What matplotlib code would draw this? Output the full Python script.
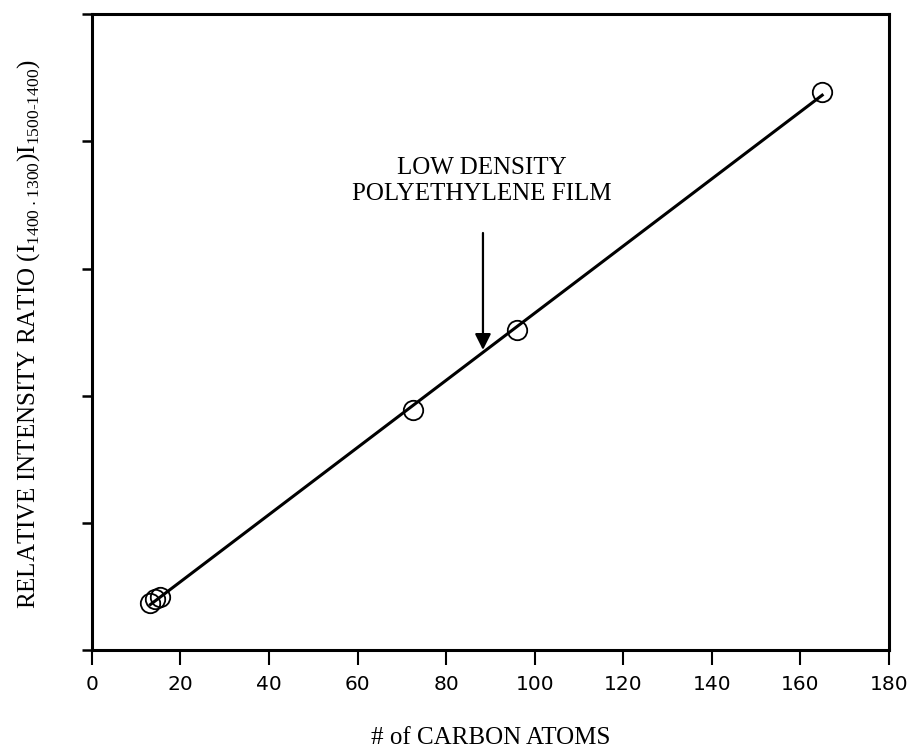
import numpy as np
import matplotlib
matplotlib.use("Agg")
import matplotlib.pyplot as plt

plt.rcParams['mathtext.fontset'] = 'custom'
plt.rcParams['mathtext.rm'] = 'Liberation Serif'

# data
carbon_atoms = [13.2, 14.3, 15.4, 72.5, 96.0, 164.9]
intensity_ratio = [0.37, 0.40, 0.42, 1.89, 2.52, 4.39]

x_ticks = [0, 20, 40, 60, 80, 100, 120, 140, 160, 180]
y_ticks = [0, 1, 2, 3, 4, 5]

arrow_x = 88.3
arrow_top = 3.28
arrow_tip = 2.36

fig = plt.figure(figsize=(9.1, 7.54), dpi=100)
ax = fig.add_axes([0.101, 0.138, 0.876, 0.843])

# straight line fitted through the points
slope, icpt = np.polyfit(carbon_atoms, intensity_ratio, 1)
xs = np.array([min(carbon_atoms), max(carbon_atoms)])
ax.plot(xs, slope * xs + icpt, color='black', linewidth=2.2, zorder=2)

ax.plot(carbon_atoms, intensity_ratio, linestyle='none', marker='o',
        markersize=14, markerfacecolor='none', markeredgecolor='black',
        markeredgewidth=1.3, zorder=3)

ax.annotate('', xy=(arrow_x, arrow_tip), xytext=(arrow_x, arrow_top),
            arrowprops=dict(arrowstyle='-|>', color='black', lw=1.6,
                            mutation_scale=24, shrinkA=0, shrinkB=0))
ax.text(arrow_x - 0.3, 3.50, 'LOW DENSITY\nPOLYETHYLENE FILM', ha='center',
        va='bottom', family='Liberation Serif', fontsize=18, linespacing=1.25)

ax.set_xlim(0, 180)
ax.set_ylim(0, 5)
ax.set_xticks(x_ticks)
ax.set_yticks(y_ticks)
ax.set_yticklabels([])
ax.tick_params(axis='x', direction='out', length=11, width=1.5, pad=7,
               labelsize=14.5)
ax.tick_params(axis='y', direction='out', length=7, width=1.8)
for s in ax.spines.values():
    s.set_linewidth(2.2)

ax.set_xlabel('# of CARBON ATOMS', family='Liberation Serif', fontsize=18,
              labelpad=24)
ax.text(-0.079, 0.497,
        r'RELATIVE INTENSITY RATIO (I$_{\mathregular{1400\cdot1300}}$)I$_{\mathregular{1500\text{-}1400}}$)',
        transform=ax.transAxes, rotation=90, ha='center', va='center',
        family='Liberation Serif', fontsize=18)

fig.savefig('out.png', dpi=100)
